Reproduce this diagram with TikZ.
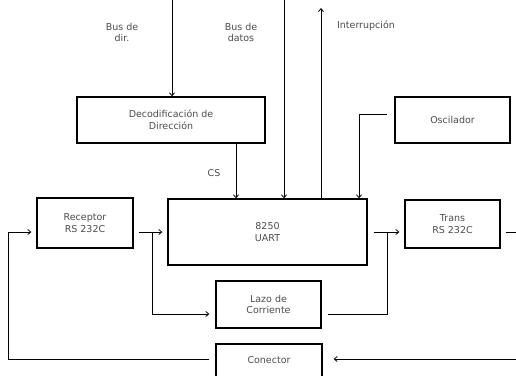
\documentclass[tikz,border=0pt]{standalone}
\usepackage{fontspec}
\setmainfont{DejaVu Sans}
\usepackage{tikz}
\usetikzlibrary{arrows.meta}

\begin{document}
\begin{tikzpicture}[x=1pt, y=-1pt, every node/.style={inner sep=2pt},
  blk/.style={draw, line width=1.3pt, align=center, text=black!70,
    font=\fontsize{9.5}{11.5}\selectfont},
  ann/.style={font=\fontsize{9.5}{11}\selectfont, text=black!70, align=center},
  wire/.style={line width=0.8pt},
  arrow/.style={wire, -{Straight Barb[length=3pt, width=5pt]}}]
\clip (0,0) rectangle (516,375);
\useasboundingbox (0,0) rectangle (516,375);
% blocks
\node[blk, minimum width=188pt, minimum height=46pt] (Bdecod) at (171,120) {Decodificación de\\Dirección};
\node[blk, minimum width=115pt, minimum height=46pt] (Bosc) at (452.5,120) {Oscilador};
\node[blk, minimum width=199pt, minimum height=66pt] (Buart) at (267.5,232) {8250\\UART};
\node[blk, minimum width=96pt, minimum height=50pt] (Brec) at (85,223) {Receptor\\RS 232C};
\node[blk, minimum width=95pt, minimum height=48pt] (Btrans) at (452.5,224) {Trans\\RS 232C};
\node[blk, minimum width=105pt, minimum height=47pt] (Blazo) at (268.5,304.5) {Lazo de\\Corriente};
\node[blk, minimum width=106pt, minimum height=34pt, text depth=0pt] (Bcon) at (269,361) {\raisebox{2pt}{Conector}};
% labels
\node[ann] (Ldir) at (122,32) {Bus de\\dir.};
\node[ann] (Ldatos) at (241,32) {Bus de\\datos};
\node[ann] (Lint) at (366,26) {Interrupción};
\node[ann] (Lcs) at (214,173) {CS};
% free ends and levels
\coordinate (Tdir) at (172,0);
\coordinate (Tdatos) at (284,0);
\coordinate (Tint) at (321,8);
\coordinate (Xcs) at (236,0);
\coordinate (Xosc) at (359,0);
\coordinate (Oout) at (387,114);
\coordinate (yRec) at (0,232);
\coordinate (yLazo) at (0,314);
\coordinate (yCon) at (0,359);
\coordinate (Rbr) at (152,232);
\coordinate (Tbr) at (387,232);
\coordinate (Lft) at (8,359);
\coordinate (Redge) at (516,232);
\coordinate (ConR) at (516,359);
% buses
\draw[arrow] (Tdir) -- (Tdir |- Bdecod.north);
\draw[arrow] (Tdatos) -- (Tdatos |- Buart.north);
\draw[arrow] (Tint |- Buart.north) -- (Tint);
\draw[arrow] (Xcs |- Bdecod.south) -- (Xcs |- Buart.north);
\draw[arrow] (Oout) -| (Xosc |- Buart.north);
% serial side
\draw[arrow, shorten <=5pt, shorten >=5pt] (Brec.east |- yRec) -- (Buart.west |- yRec);
\draw[arrow, shorten >=6pt] (Rbr) |- (Blazo.west |- yLazo);
\draw[arrow, shorten <=6pt, shorten >=5pt] (Buart.east |- yRec) -- (Btrans.west |- yRec);
\draw[wire, shorten <=6pt] (Blazo.east |- yLazo) -| (Tbr);
\draw[wire, shorten <=5pt] (Btrans.east |- yRec) -- (Redge);
\draw[arrow, shorten <=6pt, shorten >=5pt] (Bcon.west |- yCon) -| (Lft |- yRec) -- (Brec.west |- yRec);
\draw[arrow, shorten >=11pt] (ConR) -- (Bcon.east |- yCon);
\end{tikzpicture}
\end{document}
